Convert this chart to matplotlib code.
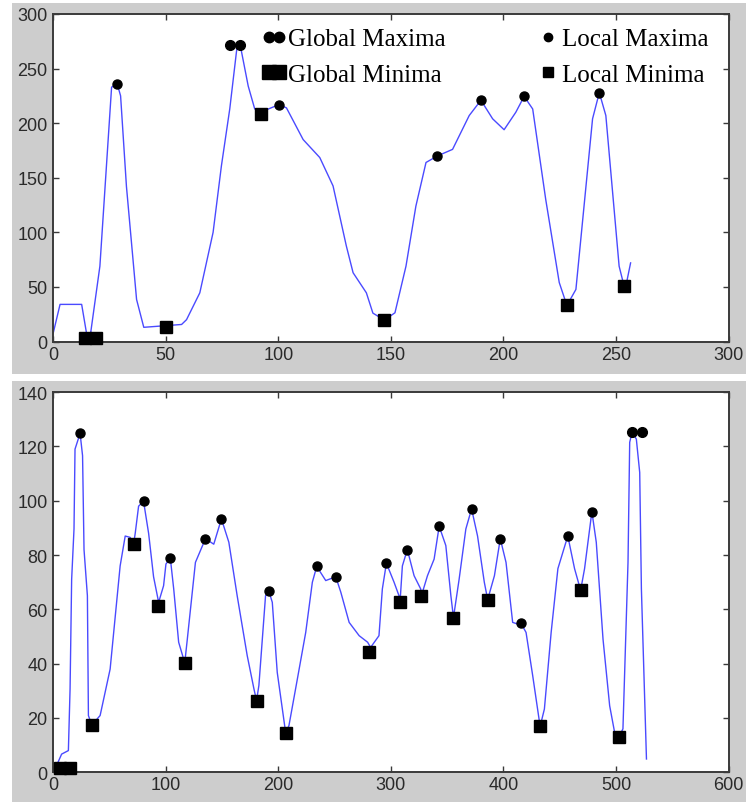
import matplotlib
matplotlib.use("Agg")
import matplotlib.pyplot as plt
from matplotlib.lines import Line2D
from matplotlib.patches import Rectangle
from matplotlib.legend_handler import HandlerLine2D

# top panel: curve
top_x = [0, 3.0, 12.6, 15.1, 16.3, 20.7, 25.9, 28.4, 29.9, 32.5, 37, 40.2, 57, 59.2, 65.1, 71,
         74.7, 78.4, 81.7, 83.1, 86.6, 89.5, 93.2, 100.3, 103.6, 111, 118.4, 124.3, 130.2, 133.2,
         139.1, 142, 147.1, 151.8, 156.7, 161.1, 165.6, 170.7, 177.4, 184.8, 190, 195.2, 200.3,
         205.5, 209.2, 213, 218.8, 224.8, 228.2, 232.2, 239.6, 242.6, 245.5, 251.4, 253.6, 254.7,
         256.5]
top_y = [8, 34, 34, 3.4, 3.4, 69, 233, 236, 225, 142, 38.5, 13, 15.6, 20, 44.6, 100,
         161, 213, 271, 271, 234, 213, 211, 217, 214, 185, 168.5, 142.5, 87.5, 63,
         44.6, 26, 19.6, 26.3, 69, 124, 164, 170, 176, 207, 221, 204, 194,
         210, 224.5, 213, 130, 54, 33, 47.7, 204, 228, 207, 69, 50.8, 53.8,
         72]

top_gmax_x = [78.4, 83.1]
top_gmax_y = [272, 272]
top_gmin_x = [14.1, 18.9]
top_gmin_y = [3, 3]
top_lmax_x = [28.4, 100.3, 170.7, 190, 209.2, 242.6]
top_lmax_y = [236, 217, 170, 221.4, 224.5, 228]
top_lmin_x = [49.9, 92.5, 147.1, 228.2, 253.6]
top_lmin_y = [13, 208, 19.6, 33, 50.8]

# bottom panel: curve
bot_x = [1.5, 7.4, 13.4, 14.9, 16.3, 18.4, 19.3, 23.8, 26, 27.3, 30.3, 31.2, 34.2, 41.6, 50.5,
         59.4, 63.9, 68.3, 71.3, 72.8, 75.8, 80.2, 84.7, 89.1, 93.6, 98, 100.1, 104, 107, 111.4,
         116.8, 118.8, 126.3, 135.2, 142.6, 149.4, 156, 163.4, 172.3, 178.3, 180.6, 182.7, 188.6,
         191.6, 194.6, 199, 206.5, 209.4, 216.9, 224.3, 230.2, 234.1, 242.1, 251, 255.5, 262.9,
         271.8, 279.3, 282, 289.4, 292.4, 296, 302.8, 307.2, 308.1, 310.2, 314.6, 320.6, 326.5,
         327.1, 332.5, 338.4, 342.9, 348.8, 353.3, 355.6, 360.6, 366.6, 371.7, 377, 383, 386,
         392, 397.2, 402.3, 408.2, 412.6, 415.6, 420.1, 426, 432.6, 436.4, 442.4, 448.4, 457.2,
         463.2, 468.6, 472.1, 478.6, 482.5, 488.5, 494.4, 498.8, 502.4, 506.2, 510.7, 512.2,
         514.3, 518.1, 521.1, 522.6, 527.1]
bot_y = [1.2, 6.7, 8, 30.7, 71, 89.6, 119, 124.8, 116.6, 82, 65, 20.9, 17.4, 20.9, 38,
         76, 87, 86.5, 84, 88, 98, 99.8, 88, 72, 62.6, 68.7, 76.7, 78.8, 67.5, 47.9,
         40.3, 47.9, 77.3, 86, 84, 93.3, 84.7, 65, 43, 30.7, 26.4, 32, 65,
         66.6, 62.6, 36.8, 14.5, 17.2, 34.4, 51.5, 70, 75.8, 70.6, 72, 66.3, 55.2,
         50.3, 47.9, 46, 50.3, 67.5, 77, 70, 65, 62.6, 76, 82, 72.4, 67.5,
         65, 72.4, 78.5, 90.6, 83.5, 65, 57, 71, 89.6, 97, 87, 70, 63.6,
         72.4, 86, 77.3, 55.2, 54.6, 54.9, 51.5, 35.6, 16.9, 23.3, 51.5, 75, 87,
         75, 67, 75, 96, 84.7, 49, 24.5, 14.7, 12.9, 16, 77.3, 121.5,
         125.2, 122.7, 110.4, 67.5, 4.9]

bot_gmax_x = [514.3, 523.5]
bot_gmax_y = [125.2, 125.2]
bot_gmin_x = [5.9, 14.9]
bot_gmin_y = [1.5, 1.5]
bot_lmax_x = [23.8, 80.2, 104, 135.2, 149.4, 191.6, 234.1, 251, 296, 314.6, 342.9, 371.7,
              397.2, 415.6, 457.2, 478.6]
bot_lmax_y = [124.8, 99.8, 78.8, 86, 93.3, 66.6, 75.8, 72, 77, 82, 90.6, 97,
              86, 54.9, 87, 96]
bot_lmin_x = [34.2, 71.3, 93, 116.8, 180.6, 206.5, 280.2, 308.1, 327.1, 355.6, 386, 432.6,
              468.6, 502.4]
bot_lmin_y = [17.4, 84, 61.4, 40.3, 26.4, 14.5, 44.2, 62.6, 65, 57, 63.6, 16.9,
              67, 12.9]

W, H = 746, 803
line_color = '#4a4aff'
panel_gray = '#cdcdcd'
edge = '#3a3a3a'

fig = plt.figure(figsize=(W / 100, H / 100), dpi=100, facecolor='white')

# grey window backgrounds (two stacked screenshots)
fig.patches.append(Rectangle((12 / W, 1 - 375 / H), 1, (375 - 4) / H,
                             transform=fig.transFigure, facecolor=panel_gray,
                             edgecolor='none', zorder=-10))
fig.patches.append(Rectangle((12 / W, 0), 1, 1 - 382 / H,
                             transform=fig.transFigure, facecolor=panel_gray,
                             edgecolor='none', zorder=-10))

left = 53.3 / W
width = (728.5 - 53.3) / W
ax1 = fig.add_axes([left, 1 - 342.5 / H, width, (342.5 - 15) / H])
ax2 = fig.add_axes([left, 1 - 773.3 / H, width, (773.3 - 393.1) / H])


def style_axes(ax, xmax, ymax, xstep, ystep):
    ax.set_xlim(0, xmax)
    ax.set_ylim(0, ymax)
    ax.set_xticks(range(0, xmax + 1, xstep))
    ax.set_yticks(range(0, ymax + 1, ystep))
    ax.tick_params(direction='in', top=True, right=True, length=4, width=1,
                   color=edge, labelsize=13, labelcolor='#2a2a2a')
    ax.tick_params(axis='x', pad=3)
    ax.tick_params(axis='y', pad=4)
    for lab in ax.get_xticklabels() + ax.get_yticklabels():
        lab.set_family('Liberation Sans')
    for s in ax.spines.values():
        s.set_color(edge)
        s.set_linewidth(1.4)
    ax.set_facecolor('white')


def draw_panel(ax, x, y, gmax_x, gmax_y, gmin_x, gmin_y, lmax_x, lmax_y, lmin_x, lmin_y):
    ax.plot(x, y, color=line_color, lw=1.0, zorder=2)
    ax.plot(gmax_x, gmax_y, ls='none', marker='o', ms=7, color='k', zorder=3, clip_on=False)
    ax.plot(gmin_x, gmin_y, ls='none', marker='s', ms=8.5, color='k', zorder=3, clip_on=False)
    ax.plot(lmax_x, lmax_y, ls='none', marker='o', ms=6.5, color='k', zorder=3)
    ax.plot(lmin_x, lmin_y, ls='none', marker='s', ms=8.5, color='k', zorder=3)


draw_panel(ax1, top_x, top_y, top_gmax_x, top_gmax_y, top_gmin_x, top_gmin_y,
           top_lmax_x, top_lmax_y, top_lmin_x, top_lmin_y)
style_axes(ax1, 300, 300, 50, 50)

draw_panel(ax2, bot_x, bot_y, bot_gmax_x, bot_gmax_y, bot_gmin_x, bot_gmin_y,
           bot_lmax_x, bot_lmax_y, bot_lmin_x, bot_lmin_y)
style_axes(ax2, 600, 140, 100, 20)

# legend in the top panel, two columns placed separately
h_gmax = Line2D([], [], ls='none', marker='o', ms=7.5, color='k')
h_gmin = Line2D([], [], ls='none', marker='s', ms=10, color='k')
h_lmax = Line2D([], [], ls='none', marker='o', ms=6, color='k')
h_lmin = Line2D([], [], ls='none', marker='s', ms=7, color='k')
leg_kw = dict(frameon=False, loc='upper left', bbox_transform=fig.transFigure,
              borderaxespad=0, borderpad=0, handlelength=1.0, handletextpad=0.08,
              labelspacing=0.5, prop={'family': 'Liberation Serif', 'size': 18})
leg1 = ax1.legend([h_gmax, h_gmin], ['Global Maxima', 'Global Minima'],
                  bbox_to_anchor=(261 / W, 1 - 29 / H),
                  handler_map={h_gmax: HandlerLine2D(numpoints=2),
                               h_gmin: HandlerLine2D(numpoints=2)}, **leg_kw)
ax1.add_artist(leg1)
ax1.legend([h_lmax, h_lmin], ['Local Maxima', 'Local Minima'],
           bbox_to_anchor=(535 / W, 1 - 29 / H), **leg_kw)

fig.savefig('out.png', dpi=100, facecolor=fig.get_facecolor())
